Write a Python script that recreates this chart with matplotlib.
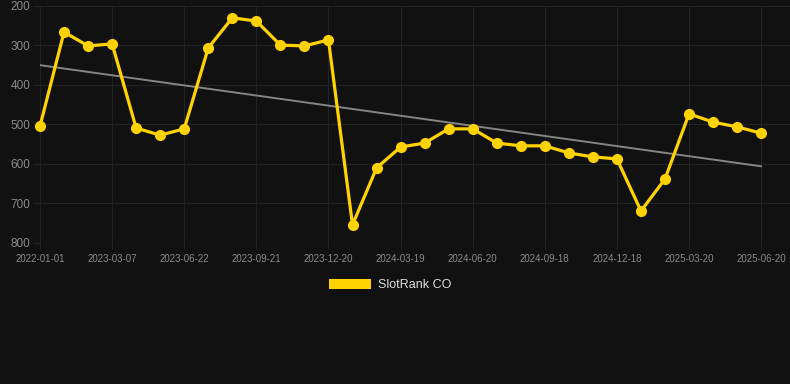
# Gráfico de ranking SlotRank CO

import matplotlib
matplotlib.use('Agg')
import matplotlib.pyplot as plt
import numpy as np
from matplotlib.patches import Patch

fechas = ['2022-01-01', '', '', '2023-03-07', '', '', '2023-06-22', '', '',
          '2023-09-21', '', '', '2023-12-20', '', '', '2024-03-19', '', '',
          '2024-06-20', '', '', '2024-09-18', '', '', '2024-12-18', '', '',
          '2025-03-20', '', '', '2025-06-20']
ranking = [504, 266, 301, 296, 509, 527, 511, 306, 230, 238, 299, 301, 286,
           754, 610, 557, 547, 511, 511, 547, 554, 554, 572, 582, 587, 719,
           638, 473, 494, 506, 522]
serie = 'SlotRank CO'

fondo = '#111111'
rejilla = '#232323'
amarillo = '#FFD200'
gris_texto = '#8a8a8a'

plt.rcParams['font.family'] = ['Liberation Sans', 'DejaVu Sans']

fig = plt.figure(figsize=(7.9, 3.84), dpi=100, facecolor=fondo)
ax = fig.add_axes([40 / 790, 1 - 243 / 384, 750 / 790, 237 / 384])
ax.set_facecolor(fondo)

x = np.arange(len(ranking))

# Línea de tendencia (regresión lineal)
m, b = np.polyfit(x, ranking, 1)
ax.plot(x, m * x + b, color='#858585', linewidth=1.4, zorder=2)

ax.plot(x, ranking, color=amarillo, linewidth=2.3, marker='o',
        markersize=7, zorder=3, clip_on=False)

ax.set_ylim(800, 200)
ax.set_xlim(0, 31.2)
ax.set_yticks([200, 300, 400, 500, 600, 700, 800])
ticks_x = [i for i, f in enumerate(fechas) if f]
ax.set_xticks(ticks_x)
ax.set_xticklabels([fechas[i] for i in ticks_x])

ax.grid(True, color=rejilla, linewidth=0.8)
ax.set_axisbelow(True)
for s in ax.spines.values():
    s.set_visible(False)

ax.tick_params(axis='y', colors=rejilla, labelcolor=gris_texto, labelsize=8.5,
               length=5, width=0.8, pad=2)
ax.tick_params(axis='x', colors=rejilla, labelcolor=gris_texto, labelsize=7,
               length=4, width=0.8, pad=4)

fig.legend(handles=[Patch(facecolor=amarillo, edgecolor='none', label=serie)],
           loc='center', bbox_to_anchor=(390 / 790, 1 - 285 / 384),
           frameon=False, fontsize=9, labelcolor='#dddddd',
           handlelength=3.4, handleheight=0.9, handletextpad=0.5)

fig.savefig('out.png', dpi=100, facecolor=fondo)
